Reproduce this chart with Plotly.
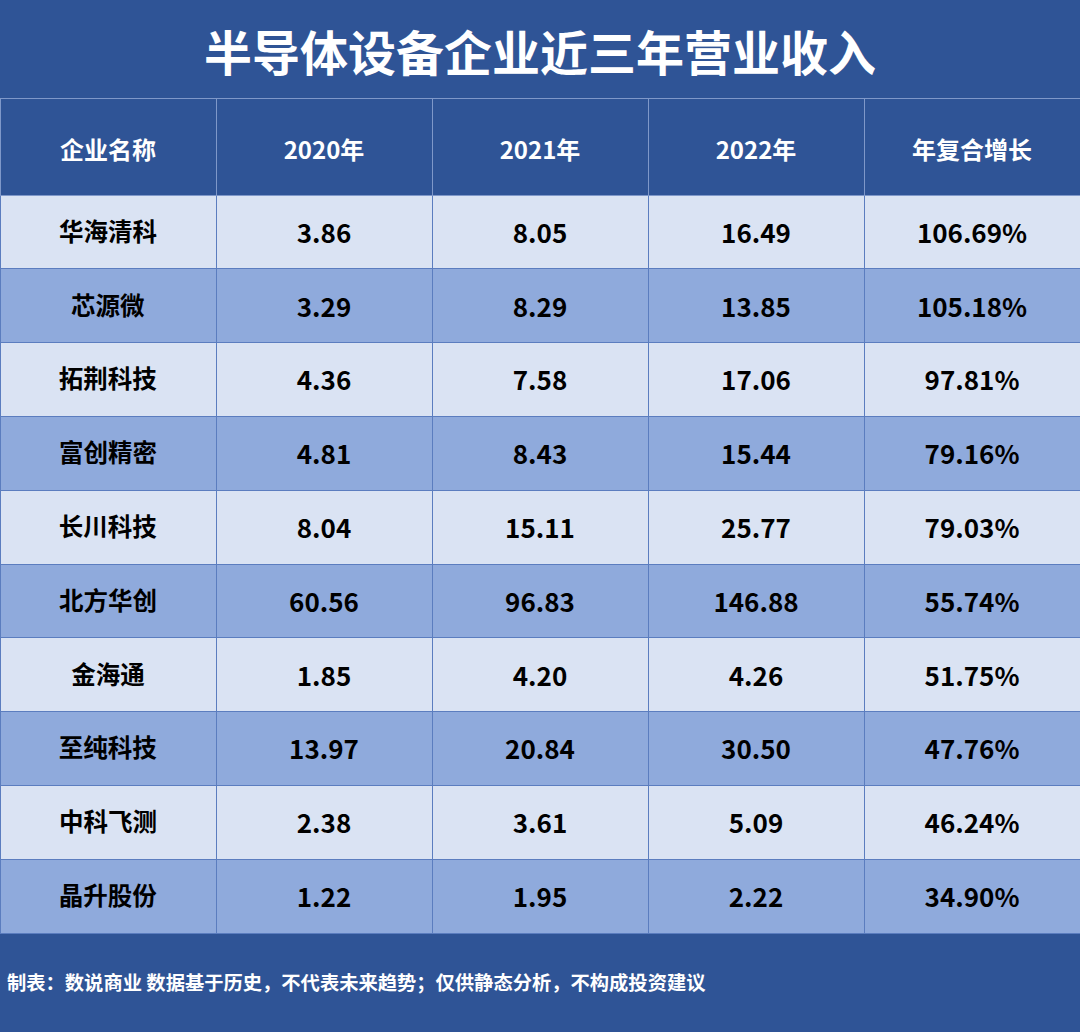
import plotly.graph_objects as go

# 半导体设备企业近三年营业收入（亿元）
companies = ["华海清科", "芯源微", "拓荆科技", "富创精密", "长川科技",
             "北方华创", "金海通", "至纯科技", "中科飞测", "晶升股份"]
rev_2020 = ["3.86", "3.29", "4.36", "4.81", "8.04", "60.56", "1.85", "13.97", "2.38", "1.22"]
rev_2021 = ["8.05", "8.29", "7.58", "8.43", "15.11", "96.83", "4.20", "20.84", "3.61", "1.95"]
rev_2022 = ["16.49", "13.85", "17.06", "15.44", "25.77", "146.88", "4.26", "30.50", "5.09", "2.22"]
cagr = ["106.69%", "105.18%", "97.81%", "79.16%", "79.03%",
        "55.74%", "51.75%", "47.76%", "46.24%", "34.90%"]
headers = ["企业名称", "2020年", "2021年", "2022年", "年复合增长"]

title = "半导体设备企业近三年营业收入"
note = "制表：数说商业 数据基于历史，不代表未来趋势；仅供静态分析，不构成投资建议"

bg = "#2F5496"
light = "#DAE3F3"
mid = "#8FAADC"
font = "Noto Sans CJK SC"

row_colors = [light if i % 2 == 0 else mid for i in range(len(companies))]


def pad(v, px):
    # plotly tables put text at the top of a cell; a small spacer line pushes it down
    return "<span style='font-size:%dpx'> <br></span><b>%s</b>" % (px, v)


fig = go.Figure()
fig.add_trace(go.Table(
    domain=dict(x=[0, 1], y=[0.05, 1 - 98 / 1032]),
    columnwidth=[1, 1, 1, 1, 1],
    header=dict(
        values=[pad(h, 19) for h in headers],
        fill_color=bg,
        line=dict(color="#7F98C9", width=1),
        align="center",
        height=97,
        font=dict(family=font, size=24, color="white"),
    ),
    cells=dict(
        values=[[pad(v, 5) for v in col] for col in [companies, rev_2020, rev_2021, rev_2022, cagr]],
        fill_color=[row_colors] * 5,
        line=dict(color="#5B7DBF", width=1),
        align="center",
        height=73.8,
        font=dict(family=font, size=[24.5, 26, 26, 26, 26], color="black"),
    ),
))

fig.add_annotation(
    text="<b>%s</b>" % title, x=0.5, y=1 - 50 / 1032, xref="paper", yref="paper",
    yanchor="middle", showarrow=False, font=dict(family=font, size=48, color="white"),
)
fig.add_annotation(
    text="<b>%s</b>" % note, x=0.005, y=1 - 982 / 1032, xref="paper", yref="paper",
    xanchor="left", yanchor="middle", showarrow=False,
    font=dict(family=font, size=19.3, color="white"),
)

fig.update_layout(
    width=1080, height=1032,
    margin=dict(l=0, r=0, t=0, b=0),
    paper_bgcolor=bg, plot_bgcolor=bg,
)
fig.write_html("out.html", config={"displayModeBar": False},
               post_script="document.body.style.margin='0';document.body.style.background='%s';" % bg)
